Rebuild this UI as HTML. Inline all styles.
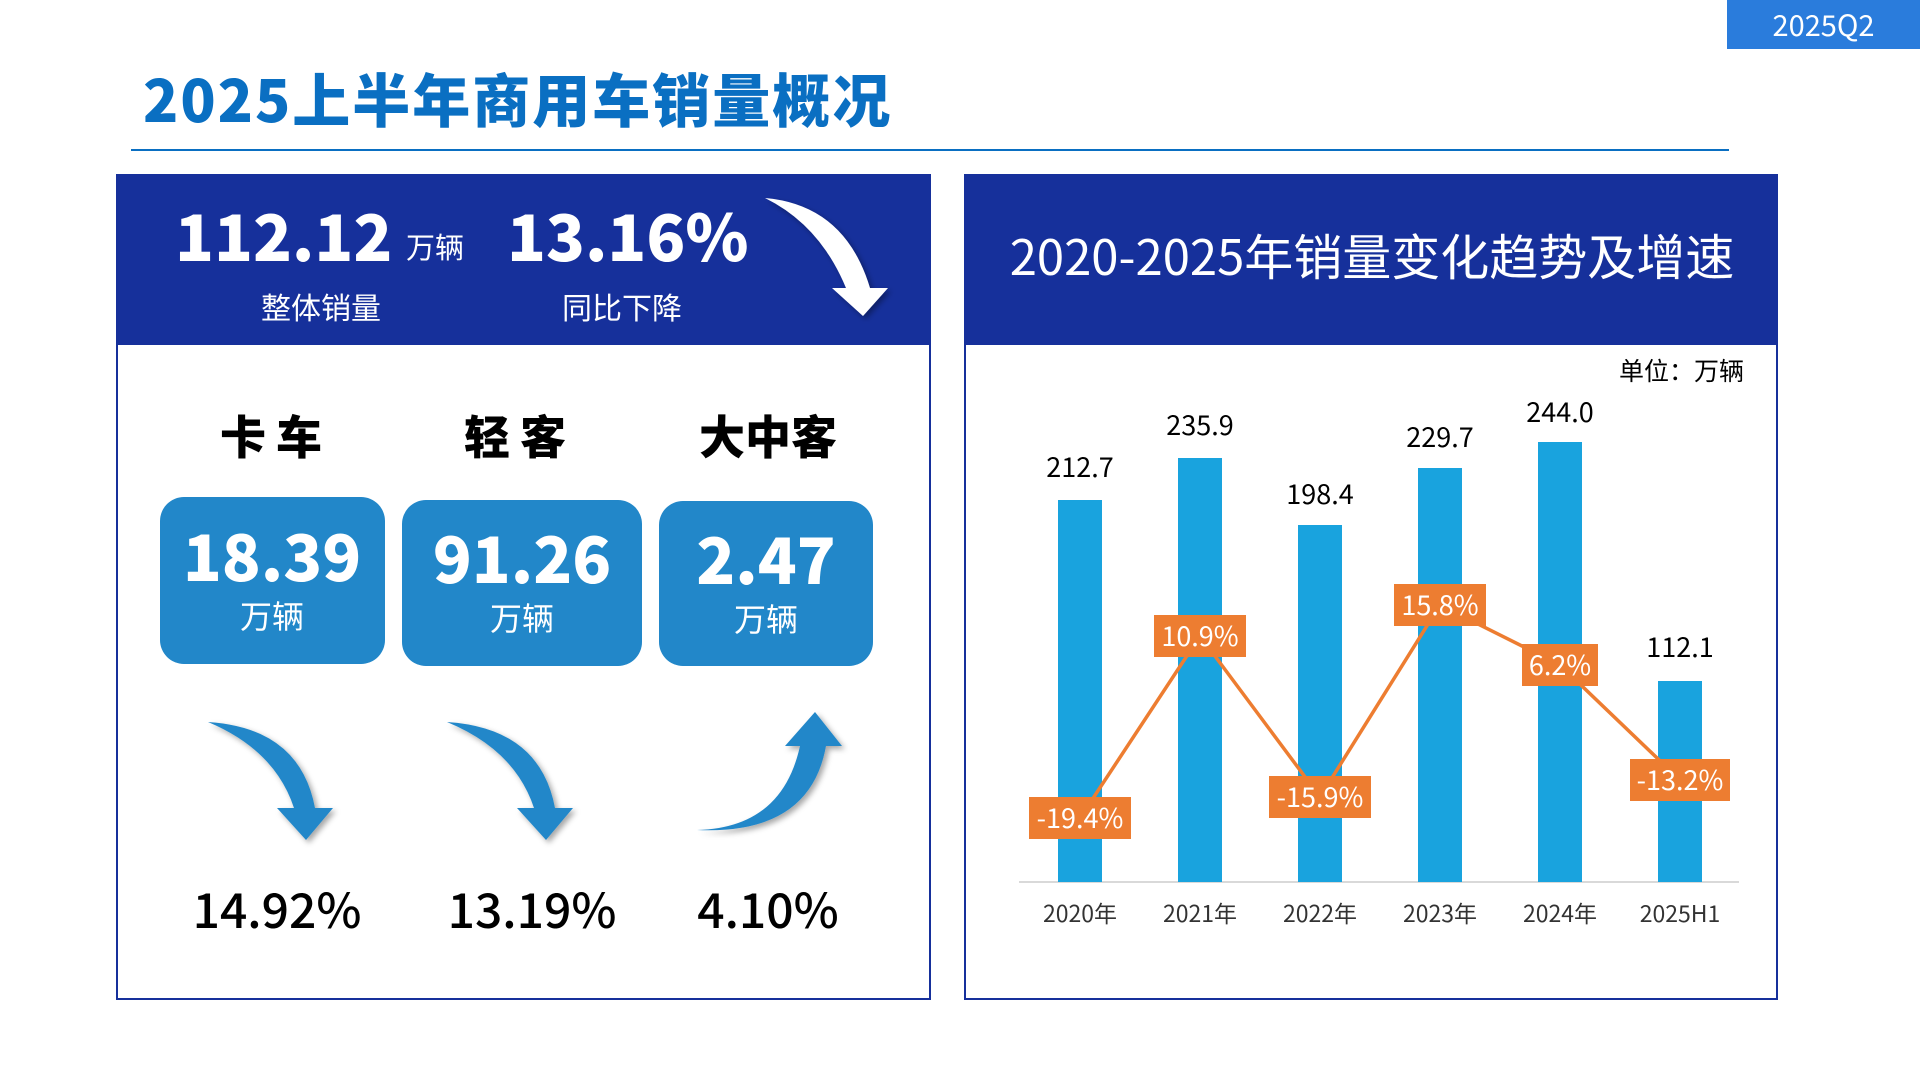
<!DOCTYPE html>
<html><head><meta charset="utf-8"><style>
*{margin:0;padding:0;box-sizing:border-box}
body{width:1920px;height:1080px;background:#fff;position:relative;overflow:hidden;font-family:"Liberation Sans","Noto Sans CJK SC",sans-serif}
.a{position:absolute}
.c{position:absolute;transform:translateX(-50%);white-space:nowrap;text-align:center}
.n{font-family:"Noto Sans CJK SC",sans-serif}
</style></head><body>
<div class="a n" style="left:1727px;top:0;width:193px;height:49px;background:#2a7cdc;color:#fff;font-size:29px;line-height:49px;text-align:center" >2025Q2</div>
<div class="a n" style="left:143px;top:62px;font-size:58px;font-weight:900;color:#0a6fc2;line-height:70px;letter-spacing:2px">2025上半年商用车销量概况</div>
<div class="a" style="left:131px;top:149px;width:1598px;height:2px;background:#0a6fc2"></div>

<div class="a" style="left:116px;top:174px;width:815px;height:826px;border:2px solid #16309b;border-top:none"></div>
<div class="a" style="left:116px;top:174px;width:815px;height:171px;background:#16309b"></div>
<div class="a n" style="left:175px;top:194px;font-size:64px;font-weight:900;color:#fff;line-height:80px">112.12</div>
<div class="a n" style="left:406px;top:226px;font-size:29px;color:#fff;line-height:40px">万辆</div>
<div class="a n" style="left:507px;top:194px;font-size:64px;font-weight:900;color:#fff;line-height:80px">13.16%</div>
<div class="c n" style="left:321px;top:284px;font-size:30px;color:#fff;line-height:44px">整体销量</div>
<div class="c n" style="left:622px;top:284px;font-size:30px;color:#fff;line-height:44px">同比下降</div>
<svg class="a" style="left:0;top:0" width="1920" height="1080">
<defs><filter id="sh"><feDropShadow dx="3" dy="3" stdDeviation="3" flood-color="#000" flood-opacity="0.35"/></filter></defs>
<path d="M765,198 Q845,205 870,288 L888,288 L863,316 L832,288 L846,288 Q820,225 765,198 Z" fill="#fff" filter="url(#sh)"/>
<path d="M208,722 Q300,728 315,808 L333,808 L306,840 L277,808 L294,808 Q275,750 208,722 Z" fill="#2287c9" filter="url(#sh)"/>
<path d="M447,722 Q540,728 555,808 L573,808 L546,840 L517,808 L534,808 Q515,750 447,722 Z" fill="#2287c9" filter="url(#sh)"/>
<path d="M697,830 Q782,828 800,746 L785,746 L815,712 L842,746 L826,746 Q810,835 697,830 Z" fill="#2287c9" filter="url(#sh)"/>
</svg>
<div class="c n" style="left:276px;top:405px;font-size:46px;font-weight:900;line-height:60px;letter-spacing:10px">卡车</div>
<div class="c n" style="left:520px;top:405px;font-size:46px;font-weight:900;line-height:60px;letter-spacing:10px">轻客</div>
<div class="c n" style="left:768px;top:405px;font-size:46px;font-weight:900;line-height:60px">大中客</div>
<div class="a" style="left:160px;top:497px;width:225px;height:167px;background:#2287c9;border-radius:24px"></div>
<div class="a" style="left:402px;top:500px;width:240px;height:166px;background:#2287c9;border-radius:24px"></div>
<div class="a" style="left:659px;top:501px;width:214px;height:165px;background:#2287c9;border-radius:24px"></div>
<div class="c n" style="left:272px;top:514px;font-size:64px;font-weight:900;color:#fff;line-height:80px">18.39</div>
<div class="c n" style="left:522px;top:516px;font-size:64px;font-weight:900;color:#fff;line-height:80px">91.26</div>
<div class="c n" style="left:766px;top:517px;font-size:64px;font-weight:900;color:#fff;line-height:80px">2.47</div>
<div class="c n" style="left:272px;top:594px;font-size:32px;color:#fff;line-height:42px">万辆</div>
<div class="c n" style="left:522px;top:596px;font-size:32px;color:#fff;line-height:42px">万辆</div>
<div class="c n" style="left:766px;top:597px;font-size:32px;color:#fff;line-height:42px">万辆</div>
<div class="c n" style="left:277px;top:874px;font-size:48px;font-weight:500;line-height:66px">14.92%</div>
<div class="c n" style="left:532px;top:874px;font-size:48px;font-weight:500;line-height:66px">13.19%</div>
<div class="c n" style="left:768px;top:874px;font-size:48px;font-weight:500;line-height:66px">4.10%</div>

<div class="a" style="left:964px;top:174px;width:814px;height:826px;border:2px solid #16309b;border-top:none"></div>
<div class="a" style="left:964px;top:174px;width:814px;height:171px;background:#16309b"></div>
<div class="c n" style="left:1372px;top:222px;font-size:49px;color:#fff;line-height:66px">2020-2025年销量变化趋势及增速</div>
<div class="a n" style="right:176px;top:352px;font-size:25px;line-height:36px">单位：万辆</div>
<svg class="a" style="left:0;top:0" width="1920" height="1080" font-family="Noto Sans CJK SC, sans-serif">
<line x1="1019" y1="882" x2="1739" y2="882" stroke="#d9d9d9" stroke-width="2"/>
<g fill="#19a3de">
<rect x="1058" y="500" width="44" height="382"/>
<rect x="1178" y="458" width="44" height="424"/>
<rect x="1298" y="525" width="44" height="357"/>
<rect x="1418" y="468" width="44" height="414"/>
<rect x="1538" y="442" width="44" height="440"/>
<rect x="1658" y="681" width="44" height="201"/>
</g>
<g font-size="27" text-anchor="middle" fill="#000">
<text x="1080" y="477">212.7</text><text x="1200" y="435">235.9</text><text x="1320" y="504">198.4</text>
<text x="1440" y="447">229.7</text><text x="1560" y="422">244.0</text><text x="1680" y="657">112.1</text>
</g>
<polyline points="1080,818 1200,636 1320,797 1440,605 1560,665 1680,780" fill="none" stroke="#ed7d31" stroke-width="3.5"/>
<g fill="#ed7d31">
<rect x="1029" y="797" width="102" height="42"/><rect x="1154" y="615" width="92" height="42"/>
<rect x="1269" y="776" width="102" height="42"/><rect x="1394" y="584" width="92" height="42"/>
<rect x="1522" y="644" width="76" height="42"/><rect x="1630" y="759" width="100" height="42"/>
</g>
<g font-size="27" text-anchor="middle" fill="#fff">
<text x="1080" y="828">-19.4%</text><text x="1200" y="646">10.9%</text><text x="1320" y="807">-15.9%</text>
<text x="1440" y="615">15.8%</text><text x="1560" y="675">6.2%</text><text x="1680" y="790">-13.2%</text>
</g>
<g font-size="23" text-anchor="middle" fill="#333">
<text x="1080" y="922">2020年</text><text x="1200" y="922">2021年</text><text x="1320" y="922">2022年</text>
<text x="1440" y="922">2023年</text><text x="1560" y="922">2024年</text><text x="1680" y="922">2025H1</text>
</g>
</svg>
</body></html>
